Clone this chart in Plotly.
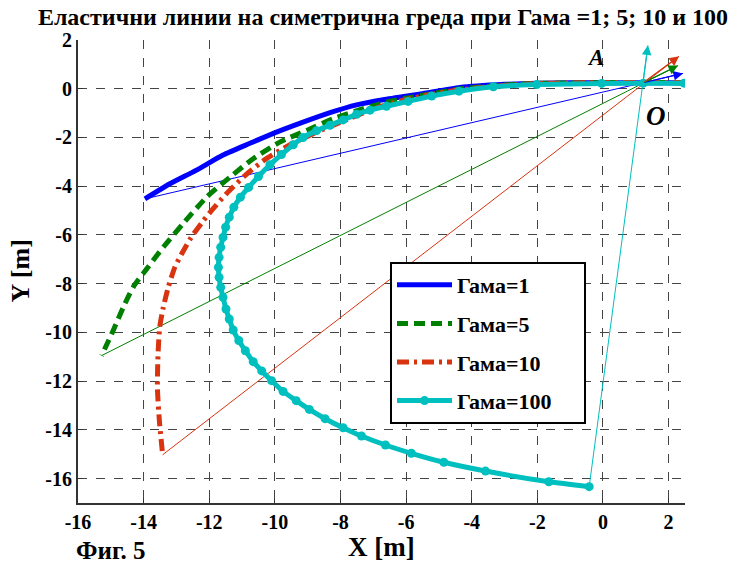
import plotly.graph_objects as go

# ---- data ----
g1_x = [2.5, 0.0, -2.0, -3.0, -4.36, -5.5, -6.7, -7.51, -8.32, -9.14, -9.95, -10.76, -11.58, -12.39, -13.2, -13.96]
g1_y = [0.25, 0.25, 0.23, 0.18, 0.05, -0.2, -0.45, -0.66, -0.98, -1.37, -1.78, -2.24, -2.72, -3.34, -3.9, -4.52]

g5_x = [2.5, 0.0, -2.0, -3.0, -4.4, -5.5, -6.6, -7.31, -8.22, -9.03, -9.85, -10.66, -11.37, -12.08, -12.8, -13.4, -13.88, -14.3, -14.62, -14.93, -15.28]
g5_y = [0.25, 0.25, 0.22, 0.15, -0.02, -0.27, -0.55, -0.82, -1.23, -1.71, -2.19, -2.87, -3.63, -4.45, -5.54, -6.5, -7.35, -8.1, -8.97, -9.93, -10.95]

g10_x = [2.5, 0.0, -2.0, -3.0, -4.4, -5.5, -6.4, -7.1, -7.92, -8.73, -9.54, -10.25, -10.86, -11.47, -11.9, -12.2, -12.55, -12.85, -13.05, -13.25, -13.4, -13.51, -13.56, -13.58, -13.52, -13.42]
g10_y = [0.25, 0.25, 0.21, 0.13, -0.05, -0.3, -0.58, -0.88, -1.33, -1.78, -2.3, -2.86, -3.5, -4.3, -4.95, -5.45, -6.1, -6.8, -7.33, -8.15, -8.97, -9.79, -10.88, -12.25, -13.62, -15.02]

g100_x = [2.47, 1.23, -0.04, -2.02, -3.34, -4.39, -5.22, -5.94, -6.6, -7.1, -7.51, -7.92, -8.32, -8.73, -9.14, -9.44, -9.8,
          -10.15, -10.5, -10.8, -11.05, -11.25, -11.39, -11.5, -11.58, -11.65, -11.7, -11.72, -11.7, -11.65, -11.58, -11.49,
          -11.39, -11.27, -11.1, -10.9, -10.66, -10.4, -10.1, -9.75, -9.35, -8.95, -8.47, -7.92, -7.36, -6.63, -5.84, -4.85,
          -3.58, -1.65, -0.42]
g100_y = [0.23, 0.23, 0.22, 0.17, 0.08, -0.1, -0.3, -0.52, -0.72, -0.88, -1.05, -1.28, -1.5, -1.72, -2.0, -2.3, -2.7,
          -3.12, -3.6, -4.05, -4.45, -4.86, -5.27, -5.68, -6.1, -6.5, -6.92, -7.33, -7.74, -8.15, -8.56, -9.04,
          -9.45, -9.9, -10.33, -10.75, -11.2, -11.58, -11.98, -12.42, -12.8, -13.16, -13.54, -13.91, -14.25, -14.62, -14.96, -15.33,
          -15.69, -16.13, -16.33]

# chord vectors: from free end through O to arrow tip
tips_x = [2.44, 2.29, 2.32, 1.37]
tips_y = [0.63, 0.95, 1.33, 1.78]
o_point = (1.22, 0.24)

names = ["Гама=1", "Гама=5", "Гама=10", "Гама=100"]
colors = ["#0000FF", "#008000", "#D9330F", "#00BFBF"]
curves = [(g1_x, g1_y), (g5_x, g5_y), (g10_x, g10_y), (g100_x, g100_y)]
dashes = ["solid", "11px,6px", "12px,5px,3px,5px", "solid"]

tick_vals = list(range(-16, 3, 2))

FONT = "Liberation Serif, Times New Roman, serif"

fig = go.Figure()

# thin chord lines
for (cx, cy), tx, ty, c in zip(curves, tips_x, tips_y, colors):
    fig.add_trace(go.Scatter(x=[cx[-1], tx], y=[cy[-1], ty], mode="lines",
                             line=dict(color=c, width=1), showlegend=False, hoverinfo="skip"))

pad = "&nbsp;" * 5
for i, ((cx, cy), n, c, d) in enumerate(zip(curves, names, colors, dashes)):
    label = f"<b>{n}</b>" + (pad if i == 3 else "")
    if i == 3:
        fig.add_trace(go.Scatter(x=cx, y=cy, mode="lines+markers", name=label, legendgroup=n,
                                 line=dict(color=c, width=5, shape="spline", smoothing=0.6),
                                 marker=dict(color=c, size=9)))
    else:
        fig.add_trace(go.Scatter(x=cx, y=cy, mode="lines", name=label, legendgroup=n,
                                 line=dict(color=c, width=5, dash=d, shape="spline", smoothing=0.6)))

annotations = []
for tx, ty, c in zip(tips_x, tips_y, colors):
    annotations.append(dict(x=tx, y=ty, ax=o_point[0], ay=o_point[1], xref="x", yref="y",
                            axref="x", ayref="y", showarrow=True, arrowhead=2, arrowsize=1.6,
                            arrowwidth=1.2, arrowcolor=c, text=""))

annotations += [
    dict(x=-0.24, y=1.29, xref="x", yref="y", text="<b><i>A</i></b>", showarrow=False,
         font=dict(family=FONT, size=23, color="black")),
    dict(x=1.62, y=-1.1, xref="x", yref="y", text="<b><i>O</i></b>", showarrow=False,
         font=dict(family=FONT, size=27, color="black")),
    dict(x=(110 - 78) / 607, y=-(550 - 503) / 463, xref="paper", yref="paper", text="<b>Фиг. 5</b>",
         showarrow=False, xanchor="center", yanchor="middle",
         font=dict(family=FONT, size=25, color="black")),
    dict(x=0.5, y=-(547 - 503) / 463, xref="paper", yref="paper", text="<b>X [m]</b>",
         showarrow=False, xanchor="center", yanchor="middle",
         font=dict(family=FONT, size=27, color="black")),
    dict(x=-(78 - 20) / 607, y=0.5, xref="paper", yref="paper", text="<b>Y [m]</b>", textangle=-90,
         showarrow=False, xanchor="center", yanchor="middle",
         font=dict(family=FONT, size=26, color="black")),
]

fig.update_layout(
    width=736, height=564,
    margin=dict(l=78, r=51, t=40, b=61, autoexpand=False),
    paper_bgcolor="white", plot_bgcolor="white",
    title=dict(text="<b>Еластични линии на симетрична греда при Гама =1; 5; 10 и 100</b>",
               x=383 / 736, xanchor="center", y=1 - 17 / 564, yanchor="middle", yref="container",
               font=dict(family=FONT, size=24, color="black")),
    font=dict(family=FONT, color="black"),
    legend=dict(x=(390 - 78) / 607, y=1 - (262 - 40) / 463, xanchor="left", yanchor="top",
                bgcolor="white", bordercolor="black", borderwidth=2,
                font=dict(family=FONT, size=22, color="black"),
                itemwidth=55, tracegroupgap=7),
    annotations=annotations,
    showlegend=True,
)

fig.update_xaxes(range=[-16, 2.5], tickvals=tick_vals,
                 ticktext=[f"<b>{v}</b>" for v in tick_vals], automargin=False,
                 showgrid=True, gridcolor="#444", griddash="dash", gridwidth=1,
                 showline=True, linecolor="#333", linewidth=2, mirror=False,
                 ticks="inside", ticklen=5, tickcolor="#333", zeroline=False,
                 tickfont=dict(family=FONT, size=20, color="black"))
fig.update_yaxes(range=[-17, 2], tickvals=tick_vals,
                 ticktext=[f"<b>{v}</b>" for v in tick_vals], automargin=False,
                 showgrid=True, gridcolor="#444", griddash="dash", gridwidth=1,
                 showline=True, linecolor="#333", linewidth=2, mirror=False,
                 ticks="inside", ticklen=5, tickcolor="#333", zeroline=False,
                 tickfont=dict(family=FONT, size=20, color="black"))

fig.write_html("out.html", config={"displayModeBar": False},
               post_script="document.body.style.margin='0px';")
